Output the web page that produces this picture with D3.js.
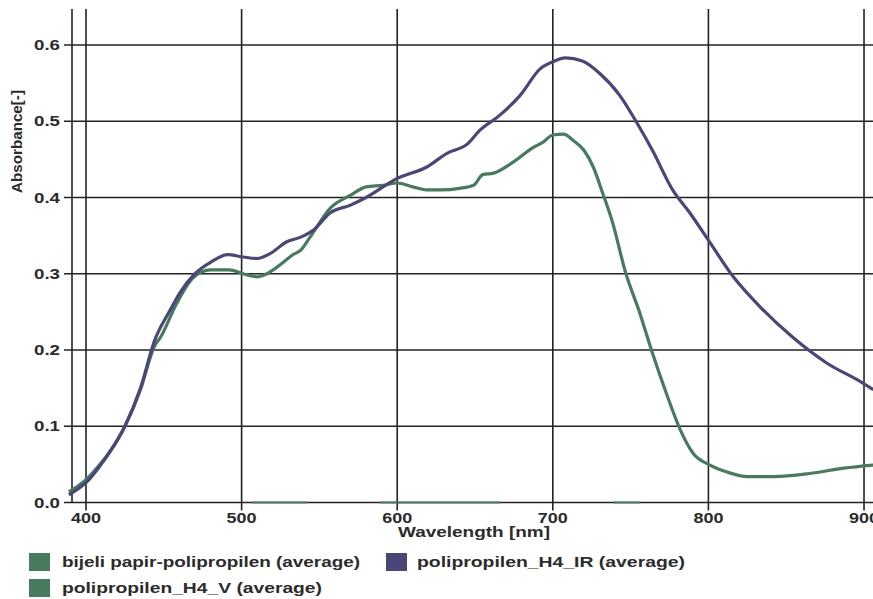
<!DOCTYPE html>
<html>
<head>
<meta charset="utf-8">
<script src="https://cdn.jsdelivr.net/npm/d3@7"></script>
<style>
  html, body { margin: 0; padding: 0; background: #fff; }
  svg { display: block; font-family: "Liberation Sans", Arial, sans-serif; }
</style>
</head>
<body>
<svg id="chart" width="873" height="599"></svg>
<script>
// ---- data ----
const xTicks = [400, 500, 600, 700, 800, 900];
const yTicks = [0.0, 0.1, 0.2, 0.3, 0.4, 0.5, 0.6];
const seriesNames = ["bijeli papir-polipropilen (average)", "polipropilen_H4_IR (average)", "polipropilen_H4_V (average)"];

// bijeli papir-polipropilen: sits on zero, mostly hidden by the axis line (null = hidden)
const bpWl  = [507, 542, 543, 589, 666, 667, 739, 756];
const bpAbs = [0, 0, null, 0, 0, null, 0, 0];

// polipropilen_H4_IR
const irWl  = [389, 395, 400, 409, 415, 425, 435, 444, 454, 460, 470, 480, 491, 501, 510, 518, 529, 538, 546, 557, 570, 580, 600, 619, 632, 645, 653, 666, 679, 692, 700, 708, 719, 730, 743, 754, 764, 777, 788, 799, 816, 833, 854, 876, 899, 906];
const irAbs = [0.010, 0.018, 0.026, 0.048, 0.065, 0.100, 0.150, 0.212, 0.252, 0.274, 0.300, 0.315, 0.325, 0.322, 0.320, 0.326, 0.342, 0.348, 0.357, 0.380, 0.390, 0.400, 0.425, 0.440, 0.458, 0.470, 0.488, 0.508, 0.534, 0.569, 0.578, 0.583, 0.579, 0.563, 0.534, 0.498, 0.462, 0.410, 0.380, 0.347, 0.296, 0.257, 0.217, 0.183, 0.157, 0.148];

// polipropilen_H4_V
const vWl  = [389, 395, 400, 409, 415, 425, 435, 444, 448, 458, 469, 480, 492, 501, 510, 514, 523, 533, 538, 544, 557, 570, 580, 591, 600, 610, 619, 628, 640, 649, 655, 662, 675, 687, 694, 700, 707, 713, 720, 726, 732, 738, 747, 756, 764, 773, 782, 790, 801, 812, 825, 842, 865, 887, 906];
const vAbs = [0.014, 0.022, 0.030, 0.050, 0.066, 0.100, 0.148, 0.205, 0.217, 0.260, 0.295, 0.305, 0.305, 0.300, 0.296, 0.298, 0.309, 0.325, 0.331, 0.348, 0.386, 0.403, 0.414, 0.416, 0.419, 0.414, 0.410, 0.410, 0.412, 0.416, 0.430, 0.432, 0.447, 0.465, 0.473, 0.482, 0.483, 0.475, 0.462, 0.440, 0.406, 0.370, 0.300, 0.248, 0.196, 0.143, 0.095, 0.065, 0.049, 0.040, 0.034, 0.034, 0.038, 0.045, 0.049];

const colGreen = "#477b5d";
const colPurple = "#4a4677";
const gridCol = "#222";
const textCol = "#2b2b2b";

// ---- scales ----
const svg = d3.select("#chart");
const x = d3.scaleLinear().domain([391, 905]).range([72, 871.8]);
const y = d3.scaleLinear().domain([0, 0.6]).range([502.5, 45]);
const plotTop = 9;

// vertical grid lines (with tick extension below axis)
const g = svg.append("g");
g.append("line").attr("x1", 72).attr("x2", 72).attr("y1", plotTop).attr("y2", y(0))
  .attr("stroke", gridCol).attr("stroke-width", 1.6);
g.selectAll(".vg").data(xTicks).join("line")
  .attr("x1", d => x(d)).attr("x2", d => x(d))
  .attr("y1", plotTop).attr("y2", y(0) + 8)
  .attr("stroke", gridCol).attr("stroke-width", 1.6);
// horizontal grid lines (with tick extension left of axis)
g.selectAll(".hg").data(yTicks).join("line")
  .attr("x1", 64).attr("x2", 873)
  .attr("y1", d => y(d)).attr("y2", d => y(d))
  .attr("stroke", gridCol).attr("stroke-width", 1.6);

// tick labels
svg.append("g").selectAll("text").data(yTicks).join("text")
  .attr("x", 60).attr("y", d => y(d) + 5)
  .attr("text-anchor", "end")
  .attr("font-size", 15).attr("font-weight", "bold").attr("fill", textCol)
  .attr("textLength", 26).attr("lengthAdjust", "spacingAndGlyphs")
  .text(d => d3.format(".1f")(d));

svg.append("g").selectAll("text").data(xTicks).join("text")
  .attr("x", d => x(d)).attr("y", 523)
  .attr("text-anchor", "middle")
  .attr("font-size", 15).attr("font-weight", "bold").attr("fill", textCol)
  .attr("textLength", 30).attr("lengthAdjust", "spacingAndGlyphs")
  .text(d => d);

// axis titles
svg.append("text").attr("x", 398).attr("y", 537)
  .attr("font-size", 15).attr("font-weight", "bold").attr("fill", textCol)
  .attr("textLength", 152).attr("lengthAdjust", "spacingAndGlyphs")
  .text("Wavelength [nm]");
svg.append("text")
  .attr("transform", "translate(22,193) rotate(-90)")
  .attr("font-size", 14).attr("font-weight", "bold").attr("fill", textCol)
  .attr("textLength", 103).attr("lengthAdjust", "spacingAndGlyphs")
  .text("Absorbance[-]");

// ---- lines ----
const line = d3.line().defined(d => d[1] !== null).curve(d3.curveMonotoneX)
  .x(d => x(d[0])).y(d => y(d[1]));
const bpData = bpWl.map((w, i) => [w, bpAbs[i]]);
const irData = irWl.map((w, i) => [w, irAbs[i]]);
const vData = vWl.map((w, i) => [w, vAbs[i]]);

svg.append("path").datum(bpData).attr("d", line)
  .attr("fill", "none").attr("stroke", colGreen).attr("stroke-width", 1.8);
svg.append("path").datum(vData).attr("d", line)
  .attr("fill", "none").attr("stroke", colGreen).attr("stroke-width", 3.2)
  .attr("stroke-linejoin", "round");
svg.append("path").datum(irData).attr("d", line)
  .attr("fill", "none").attr("stroke", colPurple).attr("stroke-width", 3.2)
  .attr("stroke-linejoin", "round");

// ---- legend ----
const legendItems = [
  {name: seriesNames[0], color: colGreen, sx: 29, sy: 553, tx: 62, tl: 298},
  {name: seriesNames[1], color: colPurple, sx: 386, sy: 553, tx: 417, tl: 268},
  {name: seriesNames[2], color: colGreen, sx: 29, sy: 579, tx: 62, tl: 260}
];
const lg = svg.append("g");
lg.selectAll("rect").data(legendItems).join("rect")
  .attr("x", d => d.sx).attr("y", d => d.sy).attr("width", 21).attr("height", 18)
  .attr("fill", d => d.color);
lg.selectAll("text").data(legendItems).join("text")
  .attr("x", d => d.tx).attr("y", d => d.sy + 14)
  .attr("font-size", 14).attr("font-weight", "bold").attr("fill", textCol)
  .attr("textLength", d => d.tl).attr("lengthAdjust", "spacingAndGlyphs")
  .text(d => d.name);
</script>
</body>
</html>
